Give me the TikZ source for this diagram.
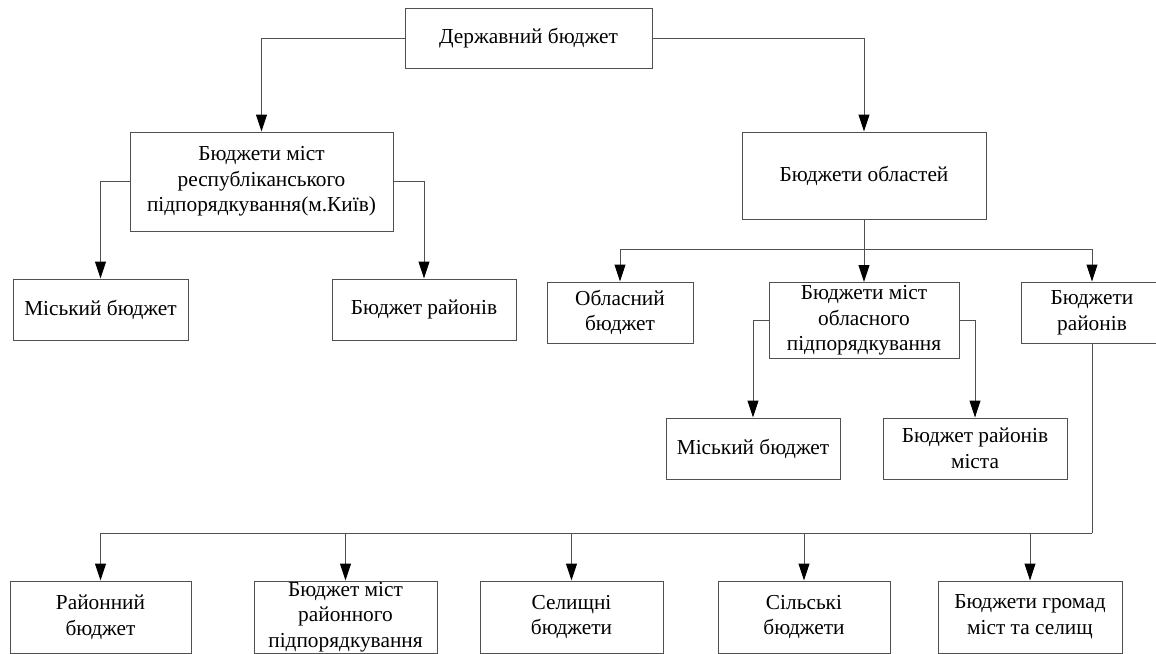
\documentclass[tikz,border=0pt]{standalone}
\usepackage{fontspec}
\setmainfont{Liberation Serif}
\usetikzlibrary{arrows.meta}
\definecolor{boxgray}{HTML}{505050}
\definecolor{linegray}{HTML}{505050}
\begin{document}
\begin{tikzpicture}[x=0.75pt,y=-0.75pt,
  box/.style={draw=boxgray, line width=0.75pt, align=center, inner sep=0pt,
    font=\fontsize{16}{19.3}\selectfont},
  wire/.style={draw=linegray, line width=0.75pt},
  conn/.style={wire, -{Triangle[width=8.25pt,length=12.75pt,color=black]}}
]
\useasboundingbox (0,0) rectangle (1156,653);
\newcommand\bx[6]{\node[box, minimum width=#4*0.75pt, minimum height=#5*0.75pt] (#1) at (#2,#3) {#6};}
% level 0
\bx{top}{528.5}{38}{247}{60}{Державний бюджет}
% level 1
\bx{rep}{261.5}{181.5}{263}{99}{Бюджети міст\\республіканського\\підпорядкування(м.Київ)}
\bx{obl}{864}{175.5}{244}{87}{Бюджети областей}
% level 2 left
\bx{mis1}{100.5}{309.5}{175}{61}{Міський бюджет}
\bx{ray1}{424}{309.5}{184}{61}{Бюджет районів}
% level 2 right
\bx{oblb}{620}{312.5}{146}{61}{Обласний\\бюджет}
\bx{mob}{864}{320.5}{190}{76}{Бюджети міст\\обласного\\підпорядкування}
\bx{ray2}{1092}{312.5}{142}{61}{Бюджети\\районів}
% level 3
\bx{mis2}{753}{448.5}{174}{61}{Міський бюджет}
\bx{rm}{975}{448.5}{184}{61}{Бюджет районів\\міста}
% bottom row
\bx{r1}{100.5}{617}{181}{72}{Районний\\бюджет}
\bx{r2}{345.5}{617}{183}{72}{Бюджет міст\\районного\\підпорядкування}
\bx{r3}{571.5}{617}{183}{72}{Селищні\\бюджети}
\bx{r4}{804}{617}{172}{72}{Сільські\\бюджети}
\bx{r5}{1030}{617}{184}{72}{Бюджети громад\\міст та селищ}
% connectors
\draw[conn] (top.west) -| (rep.north);
\draw[conn] (top.east) -| (obl.north);
\draw[conn] (rep.west) -| (mis1.north);
\draw[conn] (rep.east) -| (ray1.north);
\coordinate (b1) at (864,249);
\draw[conn] (obl.south) -- (mob.north);
\draw[conn] (b1) -| (oblb.north);
\draw[conn] (b1) -| (ray2.north);
\draw[conn] (mob.west) -| (mis2.north);
\draw[conn] (mob.east) -| (rm.north);
\coordinate (b2) at (1092,533);
\draw[wire] (ray2.south) -- (b2);
\draw[conn] (b2) -| (r1.north);
\draw[conn] (b2) -| (r2.north);
\draw[conn] (b2) -| (r3.north);
\draw[conn] (b2) -| (r4.north);
\draw[conn] (b2) -| (r5.north);
\end{tikzpicture}
\end{document}
